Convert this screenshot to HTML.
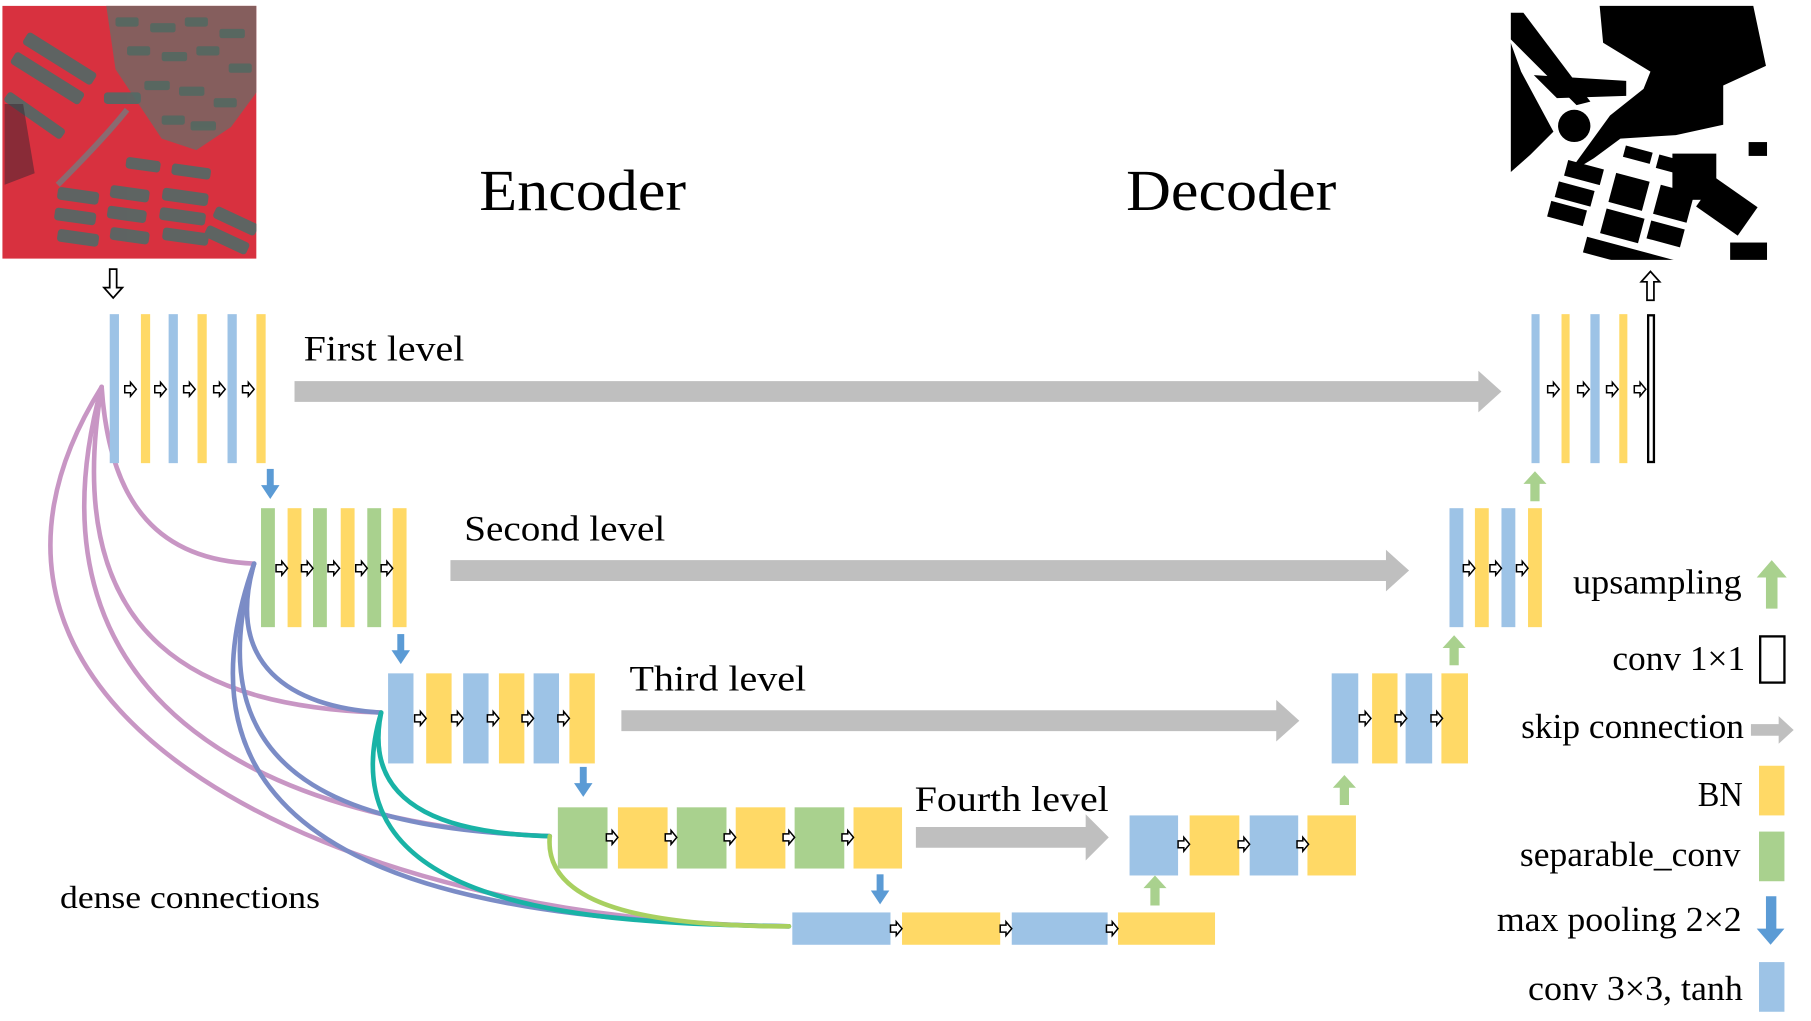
<!DOCTYPE html>
<html><head><meta charset="utf-8"><style>
html,body{margin:0;padding:0;background:#fff;}
svg{display:block;}
text{font-family:"Liberation Serif",serif;fill:#000;}
</style></head><body>
<svg width="1811" height="1021" viewBox="0 0 1568 884" preserveAspectRatio="none" xmlns="http://www.w3.org/2000/svg">
<defs>
<g id="sa"><path d="M-5,-3 L0,-3 L0,-6 L5,0 L0,6 L0,3 L-5,3 Z" fill="#fff" stroke="#000" stroke-width="1.3"/></g>
<g id="dn"><rect x="-3" y="0" width="6" height="16" fill="#5b9bd5"/><path d="M-8,14 L8,14 L0,26 Z" fill="#5b9bd5"/></g>
<g id="up"><rect x="-4" y="10" width="8" height="16" fill="#a9d18e"/><path d="M-10,11 L10,11 L0,0 Z" fill="#a9d18e"/></g>
<clipPath id="c1"><rect x="2" y="5" width="220" height="219"/></clipPath>
<clipPath id="c2"><rect x="1308" y="5" width="222" height="220"/></clipPath>
</defs>

<!-- satellite image -->
<g clip-path="url(#c1)">
<rect x="2" y="5" width="220" height="219" fill="#d8313f"/>
<path d="M92,5 L222,5 L222,80 L200,110 L170,130 L140,120 L120,90 L100,60 Z" fill="#6a6e68" opacity="0.75"/>
<g fill="#4d6a62" opacity="0.8">
<rect x="100" y="15" width="20" height="8" rx="2"/><rect x="130" y="20" width="22" height="8" rx="2"/><rect x="160" y="15" width="20" height="8" rx="2"/><rect x="190" y="25" width="22" height="8" rx="2"/>
<rect x="110" y="40" width="20" height="8" rx="2"/><rect x="140" y="45" width="22" height="8" rx="2"/><rect x="170" y="40" width="20" height="8" rx="2"/><rect x="198" y="55" width="20" height="8" rx="2"/>
<rect x="125" y="70" width="22" height="8" rx="2"/><rect x="155" y="75" width="22" height="8" rx="2"/><rect x="185" y="85" width="20" height="8" rx="2"/>
<rect x="140" y="100" width="20" height="8" rx="2"/><rect x="165" y="105" width="22" height="8" rx="2"/>
</g>
<g fill="#516a66" opacity="0.9">
<g transform="rotate(32 40 60)"><rect x="10" y="40" width="70" height="12" rx="3"/><rect x="10" y="60" width="70" height="12" rx="3"/></g>
<g transform="rotate(35 30 100)"><rect x="0" y="95" width="60" height="10" rx="3"/></g>
<rect x="90" y="80" width="32" height="10" rx="3"/>
<g transform="rotate(8 110 170)">
<rect x="50" y="170" width="36" height="11" rx="3"/><rect x="95" y="162" width="34" height="11" rx="3"/><rect x="140" y="158" width="40" height="11" rx="3"/>
<rect x="50" y="188" width="36" height="11" rx="3"/><rect x="95" y="180" width="34" height="11" rx="3"/><rect x="140" y="175" width="40" height="11" rx="3"/>
<rect x="55" y="206" width="36" height="11" rx="3"/><rect x="100" y="198" width="34" height="11" rx="3"/><rect x="145" y="192" width="40" height="11" rx="3"/>
<rect x="105" y="136" width="30" height="10" rx="3"/><rect x="145" y="136" width="34" height="10" rx="3"/>
</g>
<g transform="rotate(25 200 200)"><rect x="180" y="185" width="40" height="11" rx="3"/><rect x="180" y="203" width="40" height="11" rx="3"/></g>
</g>
<path d="M50,160 Q90,120 110,95" stroke="#8a6a70" stroke-width="5" fill="none"/>
<path d="M4,90 L20,90 L30,150 L4,160 Z" fill="#3a2530" opacity="0.5"/>
</g>

<!-- mask image -->
<g clip-path="url(#c2)">
<rect x="1308" y="5" width="222" height="220" fill="#fff"/>
<g transform="translate(1308,5)" fill="#000">
<path d="M77,0 L210,0 L221,52 L184,69 L184,103 L143,112 L95,115 L72,132 L49,146 L86,95 L115,72 L121,57 L80,32 Z"/>
<path d="M0,6 L11,6 L69,83 L57,86 L0,29 Z"/>
<path d="M0,32 L9,57 L37,109 L17,129 L0,144 Z"/>
<path d="M20,60 L100,65 L100,78 L40,80 Z"/>
<circle cx="55" cy="104" r="14"/>
<g transform="rotate(15 110 160)">
<rect x="45" y="150" width="32" height="14"/><rect x="42" y="170" width="32" height="14"/><rect x="40" y="188" width="32" height="14"/>
<rect x="88" y="150" width="30" height="26"/><rect x="88" y="182" width="34" height="22"/>
<rect x="128" y="150" width="30" height="26"/><rect x="128" y="182" width="30" height="16"/>
<rect x="90" y="125" width="24" height="10"/><rect x="120" y="125" width="24" height="12"/>
<rect x="78" y="210" width="80" height="14"/>
</g>
<rect x="140" y="128" width="38" height="40"/>
<g transform="rotate(35 190 170)"><rect x="168" y="160" width="44" height="30"/></g>
<rect x="206" y="118" width="16" height="12"/>
<rect x="190" y="205" width="32" height="20"/>
</g>
</g>

<text x="415" y="182" font-size="50" textLength="179" lengthAdjust="spacingAndGlyphs">Encoder</text>
<text x="975" y="182" font-size="50" textLength="182" lengthAdjust="spacingAndGlyphs">Decoder</text>

<path d="M95,233 L101,233 L101,249 L106,249 L98,258 L90,249 L95,249 Z" fill="#fff" stroke="#000" stroke-width="1.5"/>
<path d="M1426,260 L1432,260 L1432,244 L1437,244 L1429,235 L1421,244 L1426,244 Z" fill="#fff" stroke="#000" stroke-width="1.5"/>

<g fill="#bfbfbf">
<path d="M255,330 L1280,330 L1280,321 L1300,339 L1280,357 L1280,348 L255,348 Z"/>
<path d="M390,485 L1200,485 L1200,476 L1220,494 L1200,512 L1200,503 L390,503 Z"/>
<path d="M538,615 L1105,615 L1105,606 L1125,624 L1105,642 L1105,633 L538,633 Z"/>
<path d="M793,716 L940,716 L940,705 L960,725 L940,745 L940,734 L793,734 Z"/>
</g>

<g fill="none" stroke-width="4" stroke-linecap="round">
<g stroke="#c896c4">
<path d="M88,335 C 95,440 140,485 220,488"/>
<path d="M88,335 C 50,560 180,612 330,617"/>
<path d="M88,335 C 10,620 250,715 476,724"/>
<path d="M88,335 C -90,620 300,800 683,802"/>
</g>
<g stroke="#7b8cc6">
<path d="M220,488 C 195,575 250,612 330,617"/>
<path d="M220,488 C 160,690 330,718 476,724"/>
<path d="M220,488 C 120,770 450,798 683,802"/>
</g>
<g stroke="#19b3a6">
<path d="M330,617 C 312,705 400,722 476,724"/>
<path d="M330,617 C 280,785 500,800 683,802"/>
</g>
<path stroke="#a8d060" d="M476,724 C 470,790 580,802 683,802"/>
</g>

<rect x="95" y="272" width="8" height="129" fill="#9dc3e6"/>
<rect x="122" y="272" width="8" height="129" fill="#ffd966"/>
<rect x="146" y="272" width="8" height="129" fill="#9dc3e6"/>
<rect x="171" y="272" width="8" height="129" fill="#ffd966"/>
<rect x="197" y="272" width="8" height="129" fill="#9dc3e6"/>
<rect x="222" y="272" width="8" height="129" fill="#ffd966"/>
<use href="#sa" x="113" y="337"/><use href="#sa" x="139" y="337"/><use href="#sa" x="164" y="337"/><use href="#sa" x="190" y="337"/><use href="#sa" x="215" y="337"/>
<text x="263" y="312" font-size="31" textLength="139" lengthAdjust="spacingAndGlyphs">First level</text>
<use href="#dn" x="234" y="406"/>

<rect x="226" y="440" width="12" height="103" fill="#a9d18e"/>
<rect x="249" y="440" width="12" height="103" fill="#ffd966"/>
<rect x="271" y="440" width="12" height="103" fill="#a9d18e"/>
<rect x="295" y="440" width="12" height="103" fill="#ffd966"/>
<rect x="318" y="440" width="12" height="103" fill="#a9d18e"/>
<rect x="340" y="440" width="12" height="103" fill="#ffd966"/>
<use href="#sa" x="244" y="492"/><use href="#sa" x="266" y="492"/><use href="#sa" x="289" y="492"/><use href="#sa" x="313" y="492"/><use href="#sa" x="335" y="492"/>
<text x="402" y="468" font-size="31" textLength="174" lengthAdjust="spacingAndGlyphs">Second level</text>
<use href="#dn" x="347" y="549"/>

<rect x="336" y="583" width="22" height="78" fill="#9dc3e6"/>
<rect x="369" y="583" width="22" height="78" fill="#ffd966"/>
<rect x="401" y="583" width="22" height="78" fill="#9dc3e6"/>
<rect x="432" y="583" width="22" height="78" fill="#ffd966"/>
<rect x="462" y="583" width="22" height="78" fill="#9dc3e6"/>
<rect x="493" y="583" width="22" height="78" fill="#ffd966"/>
<use href="#sa" x="364" y="622"/><use href="#sa" x="396" y="622"/><use href="#sa" x="427" y="622"/><use href="#sa" x="457" y="622"/><use href="#sa" x="488" y="622"/>
<text x="545" y="598" font-size="31" textLength="153" lengthAdjust="spacingAndGlyphs">Third level</text>
<use href="#dn" x="505" y="664"/>

<rect x="483" y="699" width="43" height="53" fill="#a9d18e"/>
<rect x="535" y="699" width="43" height="53" fill="#ffd966"/>
<rect x="586" y="699" width="43" height="53" fill="#a9d18e"/>
<rect x="637" y="699" width="43" height="53" fill="#ffd966"/>
<rect x="688" y="699" width="43" height="53" fill="#a9d18e"/>
<rect x="739" y="699" width="42" height="53" fill="#ffd966"/>
<use href="#sa" x="530" y="725"/><use href="#sa" x="581" y="725"/><use href="#sa" x="632" y="725"/><use href="#sa" x="683" y="725"/><use href="#sa" x="734" y="725"/>
<text x="792" y="702" font-size="31" textLength="168" lengthAdjust="spacingAndGlyphs">Fourth level</text>
<use href="#dn" x="762" y="757"/>

<rect x="686" y="790" width="85" height="28" fill="#9dc3e6"/>
<rect x="781" y="790" width="85" height="28" fill="#ffd966"/>
<rect x="876" y="790" width="83" height="28" fill="#9dc3e6"/>
<rect x="968" y="790" width="84" height="28" fill="#ffd966"/>
<use href="#sa" x="776" y="804"/><use href="#sa" x="871" y="804"/><use href="#sa" x="963" y="804"/>
<use href="#up" x="1000" y="758"/>

<rect x="978" y="706" width="42" height="52" fill="#9dc3e6"/>
<rect x="1030" y="706" width="43" height="52" fill="#ffd966"/>
<rect x="1082" y="706" width="42" height="52" fill="#9dc3e6"/>
<rect x="1132" y="706" width="42" height="52" fill="#ffd966"/>
<use href="#sa" x="1025" y="731"/><use href="#sa" x="1077" y="731"/><use href="#sa" x="1128" y="731"/>
<use href="#up" x="1164" y="671"/>

<rect x="1153" y="583" width="23" height="78" fill="#9dc3e6"/>
<rect x="1188" y="583" width="22" height="78" fill="#ffd966"/>
<rect x="1217" y="583" width="23" height="78" fill="#9dc3e6"/>
<rect x="1248" y="583" width="23" height="78" fill="#ffd966"/>
<use href="#sa" x="1182" y="622"/><use href="#sa" x="1213" y="622"/><use href="#sa" x="1244" y="622"/>
<use href="#up" x="1259" y="550"/>

<rect x="1255" y="440" width="12" height="103" fill="#9dc3e6"/>
<rect x="1277" y="440" width="12" height="103" fill="#ffd966"/>
<rect x="1300" y="440" width="12" height="103" fill="#9dc3e6"/>
<rect x="1323" y="440" width="12" height="103" fill="#ffd966"/>
<use href="#sa" x="1272" y="492"/><use href="#sa" x="1295" y="492"/><use href="#sa" x="1318" y="492"/>
<use href="#up" x="1329" y="408"/>

<rect x="1326" y="272" width="7" height="129" fill="#9dc3e6"/>
<rect x="1352" y="272" width="7" height="129" fill="#ffd966"/>
<rect x="1377" y="272" width="8" height="129" fill="#9dc3e6"/>
<rect x="1402" y="272" width="7" height="129" fill="#ffd966"/>
<rect x="1427" y="273" width="5" height="127" fill="#fff" stroke="#000" stroke-width="2"/>
<use href="#sa" x="1345" y="337"/><use href="#sa" x="1371" y="337"/><use href="#sa" x="1396" y="337"/><use href="#sa" x="1420" y="337"/>

<text x="52" y="786" font-size="27" textLength="225" lengthAdjust="spacingAndGlyphs">dense connections</text>

<g font-size="30">
<text x="1362" y="514" textLength="146" lengthAdjust="spacingAndGlyphs">upsampling</text>
<text x="1396" y="580" textLength="115" lengthAdjust="spacingAndGlyphs">conv 1×1</text>
<text x="1317" y="639" textLength="193" lengthAdjust="spacingAndGlyphs">skip connection</text>
<text x="1470" y="698" textLength="39" lengthAdjust="spacingAndGlyphs">BN</text>
<text x="1316" y="750" textLength="191" lengthAdjust="spacingAndGlyphs">separable_conv</text>
<text x="1296" y="806" textLength="212" lengthAdjust="spacingAndGlyphs">max pooling 2×2</text>
<text x="1323" y="866" textLength="186" lengthAdjust="spacingAndGlyphs">conv 3×3, tanh</text>
</g>
<path d="M1529,527 L1539,527 L1539,500 L1547,500 L1534,485 L1521,500 L1529,500 Z" fill="#a9d18e"/>
<rect x="1524" y="551" width="21" height="40" fill="#fff" stroke="#000" stroke-width="2"/>
<path d="M1516,627 L1540,627 L1540,620 L1553,632 L1540,644 L1540,637 L1516,637 Z" fill="#bfbfbf"/>
<rect x="1523" y="663" width="22" height="43" fill="#ffd966"/>
<rect x="1523" y="720" width="22" height="43" fill="#a9d18e"/>
<path d="M1529,776 L1538,776 L1538,804 L1545,804 L1533,818 L1521,804 L1529,804 Z" fill="#5b9bd5"/>
<rect x="1523" y="833" width="22" height="43" fill="#9dc3e6"/>
</svg>
</body></html>
